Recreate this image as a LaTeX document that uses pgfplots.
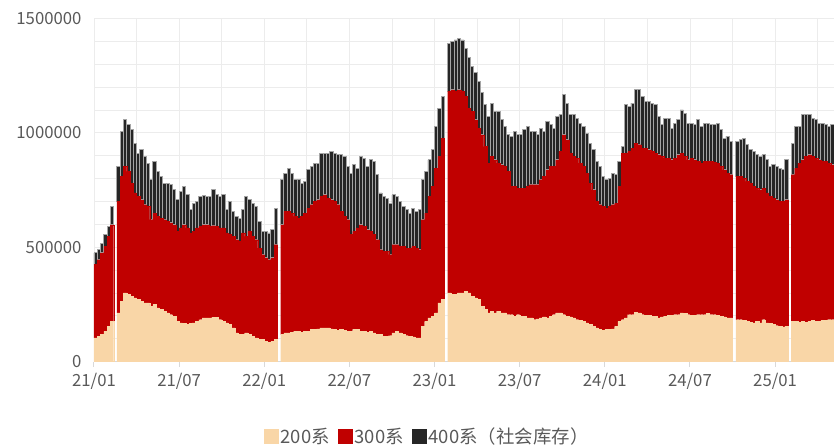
\documentclass[border=0pt]{standalone}
\usepackage{fontspec}
\setmainfont{Noto Sans CJK SC}
\usepackage{pgfplots}
\usepackage{pgfplotstable}
\pgfplotsset{compat=1.18}

\definecolor{tan200}{RGB}{249,214,167}
\definecolor{red300}{RGB}{192,0,0}
\definecolor{dark400}{RGB}{38,38,38}
\definecolor{edge400}{RGB}{165,165,165}
\definecolor{gridc}{RGB}{236,236,236}
\definecolor{axisc}{RGB}{217,217,217}
\definecolor{labelc}{RGB}{89,89,89}

% weekly stock, thousand units; week 0 = first week of 2021, holiday weeks left out
\pgfplotstableread{
w a b c
0 103 321 51
1 111 334 44
2 118 357 43
3 132 372 51
4 154 393 44
5 176 422 80
7 213 487 153
8 263 546 197
9 300 553 204
10 293 538 204
11 285 495 233
12 278 459 218
13 271 451 189
14 263 444 219
15 256 430 211
16 256 422 190
17 242 378 175
18 249 400 226
19 234 401 196
20 227 400 182
21 220 400 160
22 213 400 167
23 205 401 167
24 198 400 153
25 176 393 138
26 169 415 160
27 166 432 168
28 162 422 145
29 166 396 102
30 169 400 124
31 176 408 116
32 183 408 131
33 191 407 127
34 191 407 124
35 191 400 131
36 194 400 157
37 194 397 138
38 183 401 138
39 176 408 145
40 169 393 102
41 162 393 145
42 147 400 110
43 125 408 102
44 118 408 101
45 118 444 102
46 125 422 175
47 118 451 138
48 111 436 146
49 103 430 145
50 96 400 117
51 96 371 102
52 89 364 116
53 84 361 117
54 89 364 123
55 96 415 160
57 118 480 197
58 125 532 167
59 125 532 189
60 128 521 175
61 132 503 160
62 132 495 168
63 128 507 145
64 132 517 139
65 132 539 167
66 140 546 167
67 140 560 168
68 143 564 161
69 147 575 189
70 147 582 182
71 147 568 196
72 143 564 212
73 140 560 211
74 137 549 218
75 140 517 247
76 137 498 262
77 132 488 233
78 132 423 269
79 140 429 291
80 140 444 262
81 132 466 299
82 132 459 298
83 128 448 277
84 132 437 313
85 125 430 320
86 118 415 284
87 118 371 248
88 111 371 240
89 111 371 233
90 113 354 226
91 125 386 218
92 132 379 211
93 125 379 196
94 118 386 174
95 113 383 168
96 111 385 153
97 108 396 167
98 103 393 161
99 103 386 175
100 154 466 175
101 176 473 182
102 191 531 160
103 198 568 160
104 213 633 182
105 256 641 211
106 271 706 182
108 300 881 211
109 293 895 211
110 293 888 225
111 300 888 225
112 300 881 225
113 307 853 210
114 300 808 222
115 285 808 197
116 278 779 208
117 271 749 205
118 242 749 184
119 227 713 182
120 213 655 203
121 220 677 233
122 213 669 211
123 220 648 225
124 213 647 197
125 213 640 175
126 205 626 160
127 205 561 218
128 198 568 240
129 205 553 233
130 198 560 233
131 198 560 255
132 191 575 262
133 191 582 233
134 183 590 233
135 186 587 218
136 191 604 225
137 195 614 197
138 191 647 212
139 198 655 182
140 205 648 167
141 213 669 189
142 213 705 161
143 205 786 175
144 198 771 161
145 195 716 168
146 191 706 182
147 183 706 175
148 180 688 174
149 176 677 175
150 169 655 175
151 162 618 175
152 154 597 175
153 147 553 175
154 140 546 167
155 137 541 131
156 140 531 124
157 140 538 124
158 143 543 138
159 154 539 124
160 176 590 109
161 183 728 29
162 191 720 211
163 205 713 197
164 205 728 197
165 215 740 233
166 213 735 240
167 205 728 226
168 201 732 204
169 201 725 211
170 198 721 211
171 198 713 211
172 191 713 167
173 195 702 138
174 198 691 175
175 201 688 175
176 201 681 138
177 205 684 153
178 205 699 153
179 213 698 189
180 210 687 189
181 205 677 160
182 201 688 153
183 201 681 153
184 205 670 182
185 205 663 160
186 205 670 167
187 210 665 167
188 205 670 160
189 205 666 164
190 201 667 174
191 198 655 160
192 195 643 139
193 191 633 160
194 191 626 145
196 183 626 153
197 183 626 160
198 180 622 175
199 176 612 160
200 172 608 146
201 169 597 153
202 176 582 146
203 169 582 146
204 183 575 146
205 169 568 145
206 166 556 131
207 162 553 145
208 157 550 146
209 154 546 146
210 151 549 138
211 154 553 175
213 176 641 138
214 176 670 182
215 172 696 160
216 176 706 197
217 172 725 182
218 176 728 175
219 179 718 167
220 176 713 168
221 176 706 160
222 180 695 167
223 179 696 160
224 183 685 160
225 183 677 175
}\stock

\begin{document}
\begin{tikzpicture}
\useasboundingbox (-94bp,-83bp) rectangle (740bp,361.5bp);
\begin{axis}[
	at={(0bp,0bp)},anchor=south west,
	scale only axis,width=740bp,height=343bp,
	ybar stacked,bar width=1,
	xmin=-0.5,xmax=225.5,ymin=0,ymax=1500,
	xtick={-0.5,25.5,51.5,77.5,103.5,129.5,155.5,181.5,207.5},
	xticklabels={21/01,21/07,22/01,22/07,23/01,23/07,24/01,24/07,25/01},
	minor xtick={12.5,38.5,64.5,90.5,116.5,142.5,168.5,194.5,220.5},
	ytick={0,500,1000,1500},yticklabels={0,500000,1000000,1500000},
	minor ytick={100,200,300,400,600,700,800,900,1100,1200,1300,1400},
	grid=both,
	major grid style={gridc,line width=0.8bp},
	minor grid style={gridc,line width=0.8bp},
	axis x line*=bottom,axis y line*=left,
	x axis line style={-,axisc,line width=1bp},
	y axis line style={draw=none},
	tick align=outside,major tick length=5bp,minor tick length=0pt,
	xtick style={axisc,line width=1bp},
	ytick style={draw=none},
	tick label style={font=\fontsize{16.8}{16.8}\selectfont,text=labelc},
	yticklabel style={xshift=-4bp},
	xticklabel style={yshift=-3bp},
	legend image code/.code={\path[#1,draw=none] (0bp,-7.5bp) rectangle (15bp,7.5bp);},
	legend style={at={(0.45,-0.219)},anchor=center,legend columns=3,draw=none,fill=none,
		font=\fontsize{18.5}{18.5}\selectfont,text=labelc,
		/tikz/every even column/.append style={column sep=6bp}},
	legend cell align=left,
]
\addplot[fill=tan200,draw=tan200,line width=0.2bp] table[x=w,y=a]{\stock};
\addlegendentry{200系}
\addplot[fill=red300,draw=red300,line width=0.2bp] table[x=w,y=b]{\stock};
\addlegendentry{300系}
\addplot[fill=dark400,draw=edge400,line width=0.9bp] table[x=w,y=c]{\stock};
\addlegendentry{400系（社会库存）}
\end{axis}
\end{tikzpicture}
\end{document}
